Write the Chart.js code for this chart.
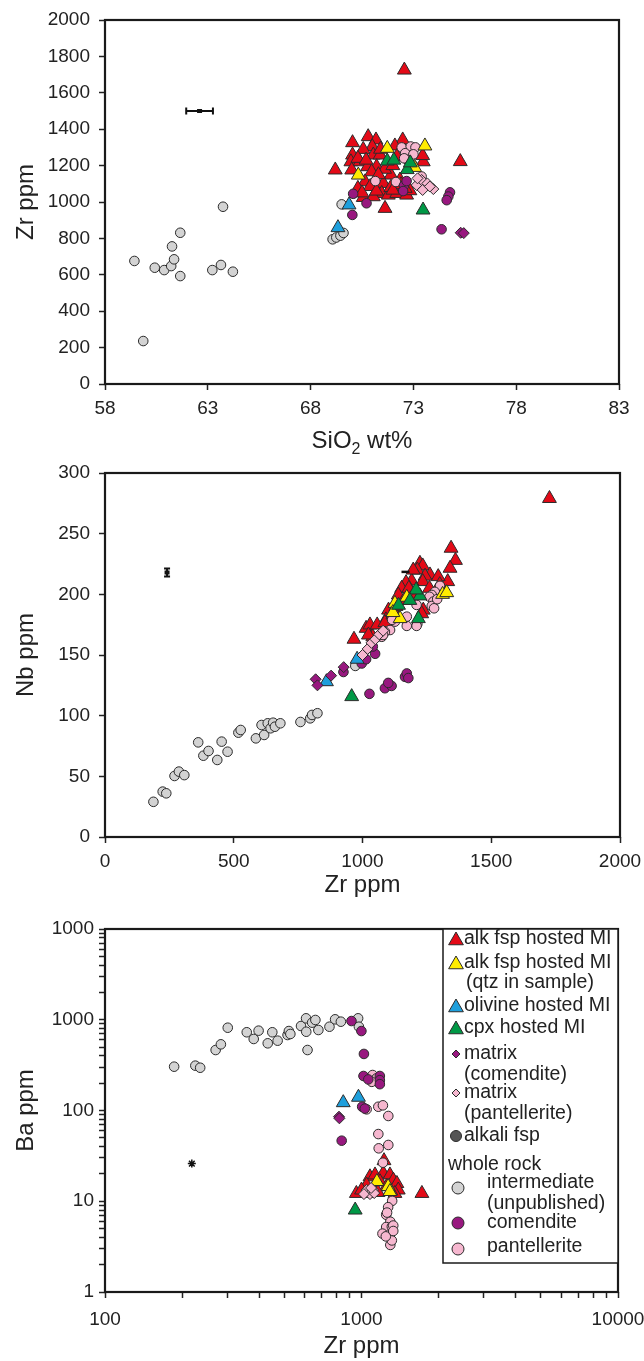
<!DOCTYPE html>
<html>
<head>
<meta charset="utf-8">
<script src="https://cdn.jsdelivr.net/npm/chart.js@4.4.1/dist/chart.umd.min.js"></script>
<style>
  html, body { margin: 0; padding: 0; background: #fff; }
  #wrap { position: relative; width: 644px; height: 1361px; }
  canvas { position: absolute; left: 0; }
</style>
</head>
<body>
<div id="wrap">
  <canvas id="c1" width="644" height="460" style="top:0px"></canvas>
  <canvas id="c2" width="644" height="440" style="top:460px"></canvas>
  <canvas id="c3" width="644" height="461" style="top:900px"></canvas>
</div>
<script>
// ---- panel 1: SiO2 wt% vs Zr ppm ----
const p1AlkMI = [[69.2,1176],[70.04,1326],[70.8,1359],[71.18,1341],[72.48,1341],[72.1,1308],[71.0,1304],[70.56,1289],[70.04,1258],[71.05,1258],[71.38,1258],[69.96,1221],[70.4,1221],[70.77,1194],[71.21,1194],[73.48,1221],[73.45,1255],[70.0,1176],[70.97,1166],[71.91,1148],[70.65,1111],[71.54,1102],[71.46,1047],[70.56,1025],[71.05,1029],[71.78,1038],[72.19,1047],[72.67,1038],[72.83,1062],[71.62,965],[72.35,1121],[70.3,1240],[70.7,1230],[71.6,1180],[72.0,1200],[71.3,1150],[70.3,1075],[70.9,1085],[71.9,1080],[72.4,1095],[72.56,1725],[75.28,1222],[70.5,1050],[71.2,1060],[72.0,1065],[72.6,1075],[71.4,1290],[72.2,1250]];
const p1QtzMI = [[71.73,1295],[73.56,1308],[70.32,1148],[73.06,1190]];
const p1OlMI = [[69.33,859],[69.87,984]];
const p1CpxMI = [[71.73,1225],[72.05,1230],[72.7,1178],[72.85,1215],[73.47,956]];
const p1MatCom = [[75.3,831],[75.45,829]];
const p1MatPan = [[73.16,1093],[73.4,1121],[73.68,1102],[73.97,1071],[73.45,1066],[73.2,1130],[73.8,1085]];
const p1Int = [[59.43,676],[59.86,236],[60.42,639],[60.88,626],[61.22,648],[61.36,685],[61.26,756],[61.66,831],[61.66,593],[63.22,626],[63.64,654],[63.74,974],[64.22,617],[69.07,795],[69.25,805],[69.45,815],[69.6,830],[69.51,987]];
const p1Com = [[70.07,1045],[70.03,929],[70.72,993],[72.54,1090],[72.67,1115],[74.78,1053],[74.7,1030],[74.62,1010],[74.37,850],[72.5,1060]];
const p1Pan = [[72.43,1300],[72.87,1305],[73.1,1300],[72.6,1268],[73.0,1262],[72.7,1232],[72.55,1240],[73.4,1140],[71.15,1115],[72.15,1110],[73.0,1200]];
const p1AlkFsp = [[62.6,1500]];
const p1AlkFspErrX = [0.65];

// ---- panel 2: Zr ppm vs Nb ppm ----
const p2AlkMI = [[1726,279],[1344,238],[1361,228],[1340,221.5],[1331,210.5],[1223,225.6],[1234,223.4],[1213,220],[1262,216],[1294,214.6],[1243,215],[1234,210.5],[1191,211],[1169,209.6],[1152,205],[1139,199.5],[1117,187.7],[1101,187],[1091,179],[1236,187],[1197,220],[967,163],[1014,172],[1029,174.8],[1040,165],[1057,174.8],[1087,176.7],[1023,166.5],[1118,183],[1230,184],[1180,205],[1210,200],[1260,205],[1300,208],[1160,195],[1130,190]];
const p2QtzMI = [[1172,197.6],[1311,200],[1327,201.4],[1126,192.6],[1146,180],[1118,185]];
const p2OlMI = [[860,128],[979,146.5]];
const p2CpxMI = [[958,115.7],[1217,180],[1223,198.7],[1208,203.6],[1184,195],[1140,191]];
const p2MatCom = [[818,130],[825,125],[878,133],[927,140]];
const p2MatPan = [[1000,150],[1020,155],[1035,160],[1050,163],[1065,167],[1080,170]];
const p2Int = [[188,29],[224,37.4],[238,36],[270,50.3],[287,53.9],[308,51],[362,78],[382,67],[402,70.9],[436,63.5],[453,78.6],[476,70.3],[518,86],[527,88.2],[586,81.3],[608,92.3],[618,84.1],[632,93.7],[643,89.6],[653,94.2],[660,90.9],[681,93.7],[759,94.8],[797,97.8],[804,100.6],[825,102],[972,141]];
const p2Com = [[926,136],[997,143],[1014,146.5],[1049,151],[1040,157],[1027,118],[1087,122.6],[1113,124.5],[1100,127],[1165,132],[1172,134.8],[1178,131]];
const p2Pan = [[1301,207],[1281,202],[1269,199.5],[1260,198],[1275,194],[1269,190.4],[1278,188.5],[1210,191.3],[1213,175.6],[1172,174],[1172,181.6],[1126,177.5],[1107,170.6],[1087,169],[1075,165],[1068,166.5],[1210,174],[1115,179],[1080,166.5],[1290,196]];
const p2AlkFsp = [[241,218]];
const p2AlkFspErrY = [3.3];
const p2Dash = [[1167,218.5]];

// ---- panel 3: Zr ppm vs Ba ppm (log-log) ----
const p3AlkMI = [[1720,12.2],[955,12.2],[1224,28],[1079,18.6],[1129,19.5],[1216,20.3],[1291,19.5],[1331,17.1],[1374,15.7],[1047,15.1],[1000,13.3],[1181,16.4],[1252,14.5],[1391,13.3],[1055,12.2],[1350,12.2],[1109,13.9],[1160,12.5],[1300,13]];
const p3QtzMI = [[1148,16.5],[1270,14.5],[1290,12.8]];
const p3OlMI = [[849,122],[973,140]];
const p3CpxMI = [[945,8.0]];
const p3MatCom = [[817,85.5],[820,82]];
const p3MatPan = [[1047,13.3],[1109,13.3],[1079,12.0],[1022,12.0],[1121,12.3],[1090,14.0]];
const p3Int = [[186,304],[225,312],[235,296],[270,464],[283,536],[301,817],[357,728],[380,614],[397,758],[431,550],[449,728],[471,588],[515,679],[521,751],[528,697],[581,853],[608,1037],[609,738],[616,464],[642,929],[661,994],[679,771],[750,838],[789,1011],[831,952],[970,1037],[977,838]];
const p3Com = [[914,968],[999,751],[1022,420],[1018,240],[1063,220],[1179,240],[1179,216],[1179,195],[1006,110],[1030,105],[837,46.5]];
const p3Pan = [[1105,246],[1144,226],[1097,207],[1163,110],[1212,114],[1272,87],[1047,103],[1163,55],[1167,38.3],[1272,41.7],[1212,26.6],[1317,10.1],[1270,8.6],[1248,7.1],[1295,5.95],[1248,5.2],[1207,4.4],[1286,4.3],[1313,5.25],[1295,3.3],[1313,3.7],[1244,4.1],[1258,7.5],[1330,5.4],[1330,4.7]];
const p3AlkFsp = [[218,26]];

// ticks
const xTicks3 = [100,200,300,400,500,600,700,800,900,1000,2000,3000,4000,5000,6000,7000,8000,9000,10000];
const xMajor3 = [100,1000,10000];
const xLabels3 = ['100','1000','10000'];
const yTicks3 = [1,2,3,4,5,6,7,8,9,10,20,30,40,50,60,70,80,90,100,200,300,400,500,600,700,800,900,1000,2000,3000,4000,5000,6000,7000,8000,9000,10000];
const yMajor3 = [1,10,100,1000,10000];
const yLabels3 = ['1','10','100','1000','1000'];

// legend
const legendLabels = ['alk fsp hosted MI','alk fsp hosted MI','(qtz in sample)','olivine hosted MI','cpx hosted MI','matrix','(comendite)','matrix','(pantellerite)','alkali fsp','whole rock','intermediate','(unpublished)','comendite','pantellerite'];

const INK = '#222222';
const EDGE = '#2b2b2b';
const RED = '#e30a17';
const YELLOW = '#ffec00';
const BLUE = '#1e9fdc';
const GREEN = '#009846';
const PURPLE = '#98187f';
const PINK = '#f6b7cf';
const GRAY = '#d3d3d3';
const DARK = '#555555';

Chart.defaults.font.family = '"Liberation Sans", Arial, sans-serif';
Chart.defaults.font.size = 19;
Chart.defaults.color = INK;

function pts(arr) { return arr.map(p => ({ x: p[0], y: p[1] })); }

function series(arr, style, fill, radius, order) {
  return {
    data: pts(arr),
    pointStyle: style,
    backgroundColor: fill,
    borderColor: EDGE,
    borderWidth: 1,
    pointRadius: radius,
    pointHoverRadius: radius,
    order: order,
  };
}

function panelSets(s) {
  return [
    series(s.int, 'circle', GRAY, 4.8, 10),
    series(s.alk, 'triangle', RED, 8, 9),
    series(s.pan, 'circle', PINK, 4.8, 8),
    series(s.com, 'circle', PURPLE, 4.8, 7),
    series(s.qtz, 'triangle', YELLOW, 8, 6),
    series(s.cpx, 'triangle', GREEN, 8, 5),
    series(s.ol, 'triangle', BLUE, 8, 4),
    series(s.matPan, 'rectRot', PINK, 5.5, 3),
    series(s.matCom, 'rectRot', PURPLE, 5.5, 2),
  ];
}

const boxPlugin = {
  id: 'box',
  afterDraw(chart) {
    const { ctx, chartArea: a } = chart;
    ctx.save();
    ctx.strokeStyle = '#1a1a1a';
    ctx.lineWidth = 2.2;
    ctx.strokeRect(a.left, a.top, a.right - a.left, a.bottom - a.top);
    ctx.restore();
  },
};

function gridOpts() {
  return { drawOnChartArea: false, drawTicks: true, tickLength: 6, tickColor: INK, tickWidth: 1.5 };
}

// fixed axis box sizes so the plot areas sit where the reference has them
function fixX(h) {
  return (s) => { s.height = h; s.paddingLeft = 0; s.paddingRight = 0; };
}
function fixY(w) {
  return (s) => { s.width = w; s.paddingTop = 0; s.paddingBottom = 0; };
}

function linAxis(min, max, step, pad) {
  return {
    type: 'linear',
    min: min,
    max: max,
    border: { display: false },
    grid: gridOpts(),
    ticks: { stepSize: step, autoSkip: false, maxRotation: 0, padding: pad, color: INK, callback: (v) => String(v) },
  };
}

function yTitle(text) {
  return { display: true, text: text, color: INK, font: { size: 24 }, padding: { top: 12, bottom: 0 } };
}

function xTitle(text) {
  return { display: true, text: text, color: INK, font: { size: 24 }, padding: { top: 0, bottom: 0 } };
}

const baseOpts = {
  responsive: false,
  animation: false,
  events: [],
  plugins: { legend: { display: false }, tooltip: { enabled: false } },
};

// ---------- chart 1 ----------
const errX1 = {
  id: 'errX1',
  afterDatasetsDraw(chart) {
    const { ctx, scales } = chart;
    ctx.save();
    ctx.strokeStyle = '#111';
    ctx.fillStyle = '#111';
    ctx.lineWidth = 2;
    p1AlkFsp.forEach((p, i) => {
      const y = scales.y.getPixelForValue(p[1]);
      const x0 = scales.x.getPixelForValue(p[0] - p1AlkFspErrX[i]);
      const x1 = scales.x.getPixelForValue(p[0] + p1AlkFspErrX[i]);
      const xc = scales.x.getPixelForValue(p[0]);
      ctx.beginPath();
      ctx.moveTo(x0, y); ctx.lineTo(x1, y);
      ctx.moveTo(x0, y - 3.5); ctx.lineTo(x0, y + 3.5);
      ctx.moveTo(x1, y - 3.5); ctx.lineTo(x1, y + 3.5);
      ctx.stroke();
      ctx.fillRect(xc - 2.5, y - 2, 5, 4);
    });
    ctx.restore();
  },
};

const sio2Title = {
  id: 'sio2Title',
  afterDraw(chart) {
    const { ctx, chartArea: a } = chart;
    ctx.save();
    ctx.fillStyle = INK;
    ctx.textBaseline = 'alphabetic';
    const big = '24px "Liberation Sans", Arial, sans-serif';
    const small = '16px "Liberation Sans", Arial, sans-serif';
    ctx.font = big;
    const w1 = ctx.measureText('SiO').width;
    const w3 = ctx.measureText(' wt%').width;
    ctx.font = small;
    const w2 = ctx.measureText('2').width;
    let x = (a.left + a.right) / 2 - (w1 + w2 + w3) / 2;
    const base = a.bottom + 64;
    ctx.font = big;
    ctx.fillText('SiO', x, base);
    x += w1;
    ctx.font = small;
    ctx.fillText('2', x, base + 6);
    x += w2;
    ctx.font = big;
    ctx.fillText(' wt%', x, base);
    ctx.restore();
  },
};

const x1 = linAxis(58, 83, 5, 7);
x1.afterFit = fixX(76);
const y1 = linAxis(0, 2000, 200, 9);
y1.title = yTitle('Zr ppm');
y1.afterFit = fixY(105);

new Chart(document.getElementById('c1'), {
  type: 'scatter',
  data: {
    datasets: panelSets({ int: p1Int, alk: p1AlkMI, pan: p1Pan, com: p1Com, qtz: p1QtzMI, cpx: p1CpxMI, ol: p1OlMI, matPan: p1MatPan, matCom: p1MatCom }),
  },
  options: Object.assign({}, baseOpts, {
    layout: { padding: { left: 0, right: 25, top: 20, bottom: 0 } },
    scales: { x: x1, y: y1 },
  }),
  plugins: [boxPlugin, errX1, sio2Title],
});

// ---------- chart 2 ----------
const errY2 = {
  id: 'errY2',
  afterDatasetsDraw(chart) {
    const { ctx, scales } = chart;
    ctx.save();
    ctx.strokeStyle = '#111';
    ctx.fillStyle = '#111';
    ctx.lineWidth = 2;
    p2AlkFsp.forEach((p, i) => {
      const x = scales.x.getPixelForValue(p[0]);
      const y0 = scales.y.getPixelForValue(p[1] - p2AlkFspErrY[i]);
      const y1p = scales.y.getPixelForValue(p[1] + p2AlkFspErrY[i]);
      const yc = scales.y.getPixelForValue(p[1]);
      ctx.beginPath();
      ctx.moveTo(x, y0); ctx.lineTo(x, y1p);
      ctx.moveTo(x - 3, y0); ctx.lineTo(x + 3, y0);
      ctx.moveTo(x - 3, y1p); ctx.lineTo(x + 3, y1p);
      ctx.stroke();
      ctx.fillRect(x - 2.5, yc - 2, 5, 4);
    });
    ctx.restore();
  },
};

const x2 = linAxis(0, 2000, 500, 7);
x2.title = xTitle('Zr ppm');
x2.afterFit = fixX(63);
const y2 = linAxis(0, 300, 50, 9);
y2.title = yTitle('Nb ppm');
y2.afterFit = fixY(105);

const sets2 = panelSets({ int: p2Int, alk: p2AlkMI, pan: p2Pan, com: p2Com, qtz: p2QtzMI, cpx: p2CpxMI, ol: p2OlMI, matPan: p2MatPan, matCom: p2MatCom });
sets2.push({ data: pts(p2Dash), pointStyle: 'line', borderColor: '#111', borderWidth: 2.5, pointRadius: 4, order: 0 });

new Chart(document.getElementById('c2'), {
  type: 'scatter',
  data: { datasets: sets2 },
  options: Object.assign({}, baseOpts, {
    layout: { padding: { left: 0, right: 24, top: 13, bottom: 0 } },
    scales: { x: x2, y: y2 },
  }),
  plugins: [boxPlugin, errY2],
});

// ---------- chart 3 ----------
function logAxis(min, max, tickList, majors, labels, pad) {
  return {
    type: 'logarithmic',
    min: min,
    max: max,
    border: { display: false },
    grid: gridOpts(),
    afterBuildTicks: (s) => { s.ticks = tickList.map((v) => ({ value: v })); },
    ticks: {
      autoSkip: false,
      maxRotation: 0,
      padding: pad,
      color: INK,
      callback: (v) => {
        const i = majors.indexOf(v);
        return i >= 0 ? labels[i] : '';
      },
    },
  };
}

function tri(ctx, x, y, r) {
  ctx.beginPath();
  ctx.moveTo(x, y - r);
  ctx.lineTo(x + r * 0.866, y + r / 2);
  ctx.lineTo(x - r * 0.866, y + r / 2);
  ctx.closePath();
}
function diamond(ctx, x, y, r) {
  ctx.beginPath();
  ctx.moveTo(x - r, y); ctx.lineTo(x, y - r); ctx.lineTo(x + r, y); ctx.lineTo(x, y + r);
  ctx.closePath();
}
function dot(ctx, x, y, r) {
  ctx.beginPath();
  ctx.arc(x, y, r, 0, Math.PI * 2);
}

const legend3 = {
  id: 'legend3',
  afterDraw(chart) {
    const { ctx, chartArea: a } = chart;
    const L = a.right - 175;
    const T = a.top;
    ctx.save();
    ctx.fillStyle = '#fff';
    ctx.fillRect(L, T, a.right - L, 334);
    ctx.strokeStyle = '#1a1a1a';
    ctx.lineWidth = 1.5;
    ctx.strokeRect(L, T, a.right - L, 334);
    // rows: [dy, text x offset, marker, colour, marker size]
    const rows = [
      [10, 21, 'tri', RED, 8.5],
      [34, 21, 'tri', YELLOW, 8.5],
      [54, 23, null],
      [77, 21, 'tri', BLUE, 8.5],
      [99, 21, 'tri', GREEN, 8.5],
      [125, 21, 'dia', PURPLE, 4],
      [146, 21, null],
      [164, 21, 'dia', PINK, 4],
      [185, 21, null],
      [207, 21, 'dot', DARK, 5.5],
      [236, 5, null],
      [254, 44, 'dot', GRAY, 6],
      [275, 44, null],
      [294, 44, 'dot', PURPLE, 6],
      [318, 44, 'dot', PINK, 6],
    ];
    ctx.font = '19.5px "Liberation Sans", Arial, sans-serif';
    ctx.textBaseline = 'middle';
    rows.forEach((r, i) => {
      const y = T + r[0];
      if (r[2]) {
        ctx.fillStyle = r[3];
        ctx.strokeStyle = EDGE;
        ctx.lineWidth = 1;
        if (r[2] === 'tri') tri(ctx, L + 13, y + 1.5, r[4]);
        if (r[2] === 'dia') diamond(ctx, L + 13, y, r[4]);
        if (r[2] === 'dot') {
          const my = i === 11 ? y + 5 : (i === 14 ? y + 2 : y);
          dot(ctx, r[1] > 30 ? L + 15 : L + 13, my, r[4]);
        }
        ctx.fill();
        ctx.stroke();
      }
      ctx.fillStyle = INK;
      ctx.fillText(legendLabels[i], L + r[1], y);
    });
    ctx.restore();
  },
};

const x3 = logAxis(100, 10000, xTicks3, xMajor3, xLabels3, 10);
x3.title = xTitle('Zr ppm');
x3.afterFit = fixX(69);
const y3 = logAxis(1, 10000, yTicks3, yMajor3, yLabels3, 5);
y3.title = yTitle('Ba ppm');
y3.afterFit = fixY(105);

const sets3 = panelSets({ int: p3Int, alk: p3AlkMI, pan: p3Pan, com: p3Com, qtz: p3QtzMI, cpx: p3CpxMI, ol: p3OlMI, matPan: p3MatPan, matCom: p3MatCom });
sets3.push({ data: pts(p3AlkFsp), pointStyle: 'star', borderColor: '#111', borderWidth: 1.5, pointRadius: 4, order: 0 });

new Chart(document.getElementById('c3'), {
  type: 'scatter',
  data: { datasets: sets3 },
  options: Object.assign({}, baseOpts, {
    layout: { padding: { left: 0, right: 26, top: 29, bottom: 0 } },
    scales: { x: x3, y: y3 },
  }),
  plugins: [boxPlugin, legend3],
});
</script>
</body>
</html>
